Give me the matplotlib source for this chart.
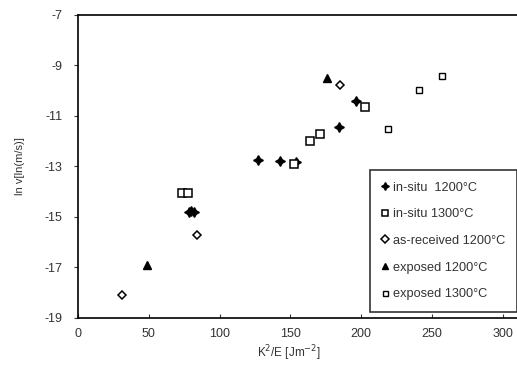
import matplotlib
matplotlib.use('Agg')
import matplotlib.pyplot as plt

plt.rcParams['font.family'] = ['Liberation Sans', 'DejaVu Sans']
plt.rcParams['axes.unicode_minus'] = False

# data
insitu1200_x = [127, 142.5, 154, 184, 196.5, 78, 80, 82]
insitu1200_y = [-12.75, -12.78, -12.83, -11.43, -10.4, -14.8, -14.78, -14.8]
insitu1300_x = [73.4, 77.6, 152.5, 164, 170.6, 203]
insitu1300_y = [-14.05, -14.05, -12.9, -12.0, -11.7, -10.65]
asrec1200_x = [30.8, 84, 185]
asrec1200_y = [-18.1, -15.7, -9.77]
exposed1200_x = [49, 176]
exposed1200_y = [-16.9, -9.5]
exposed1300_x = [219, 241, 257]
exposed1300_y = [-11.5, -9.97, -9.42]

fig = plt.figure(figsize=(5.17, 3.65), dpi=100)
ax = fig.add_axes([0.151, 0.129, 0.849, 0.83])

ax.plot(insitu1200_x, insitu1200_y, ls='none', marker=(4, 1, 0), ms=7, color='black',
        label='in-situ  1200°C')
ax.plot(insitu1300_x, insitu1300_y, ls='none', marker='s', ms=6, mfc='white', mec='black',
        mew=1.1, label='in-situ 1300°C')
ax.plot(asrec1200_x, asrec1200_y, ls='none', marker='D', ms=4.5, mfc='white', mec='black',
        mew=1.1, label='as-received 1200°C')
ax.plot(exposed1200_x, exposed1200_y, ls='none', marker='^', ms=6, color='black',
        label='exposed 1200°C')
ax.plot(exposed1300_x, exposed1300_y, ls='none', marker='s', ms=4.5, mfc='white', mec='black',
        mew=1.0, label='exposed 1300°C')

ax.set_xlim(0, 310)
ax.set_ylim(-19, -7)
ax.set_xticks([0, 50, 100, 150, 200, 250, 300])
ax.set_yticks([-19, -17, -15, -13, -11, -9, -7])
ax.spines['right'].set_visible(False)
ax.tick_params(axis='x', direction='in', length=3, labelsize=9, pad=7, colors='#333333')
ax.tick_params(axis='y', direction='out', length=3, labelsize=9, pad=8, colors='#333333')
for s in ax.spines.values():
    s.set_linewidth(1.2)

ax.set_xlabel('K$^2$/E [Jm$^{-2}$]', fontsize=8.5, color='#333333', labelpad=5)
ax.xaxis.set_label_coords(0.48, -0.085)
ax.set_ylabel('ln v[ln(m/s)]', fontsize=8, color='#333333', labelpad=14)

leg = ax.legend(loc='lower right', bbox_to_anchor=(1.0, 0.02), fontsize=9.2,
                frameon=True, fancybox=False, edgecolor='black', handlelength=0.5,
                handletextpad=0.4, labelspacing=1.15, borderpad=0.9, borderaxespad=0,
                markerscale=0.8)
leg.get_frame().set_linewidth(1.2)
for t in leg.get_texts():
    t.set_color('#333333')

fig.savefig('out.png', dpi=100)
